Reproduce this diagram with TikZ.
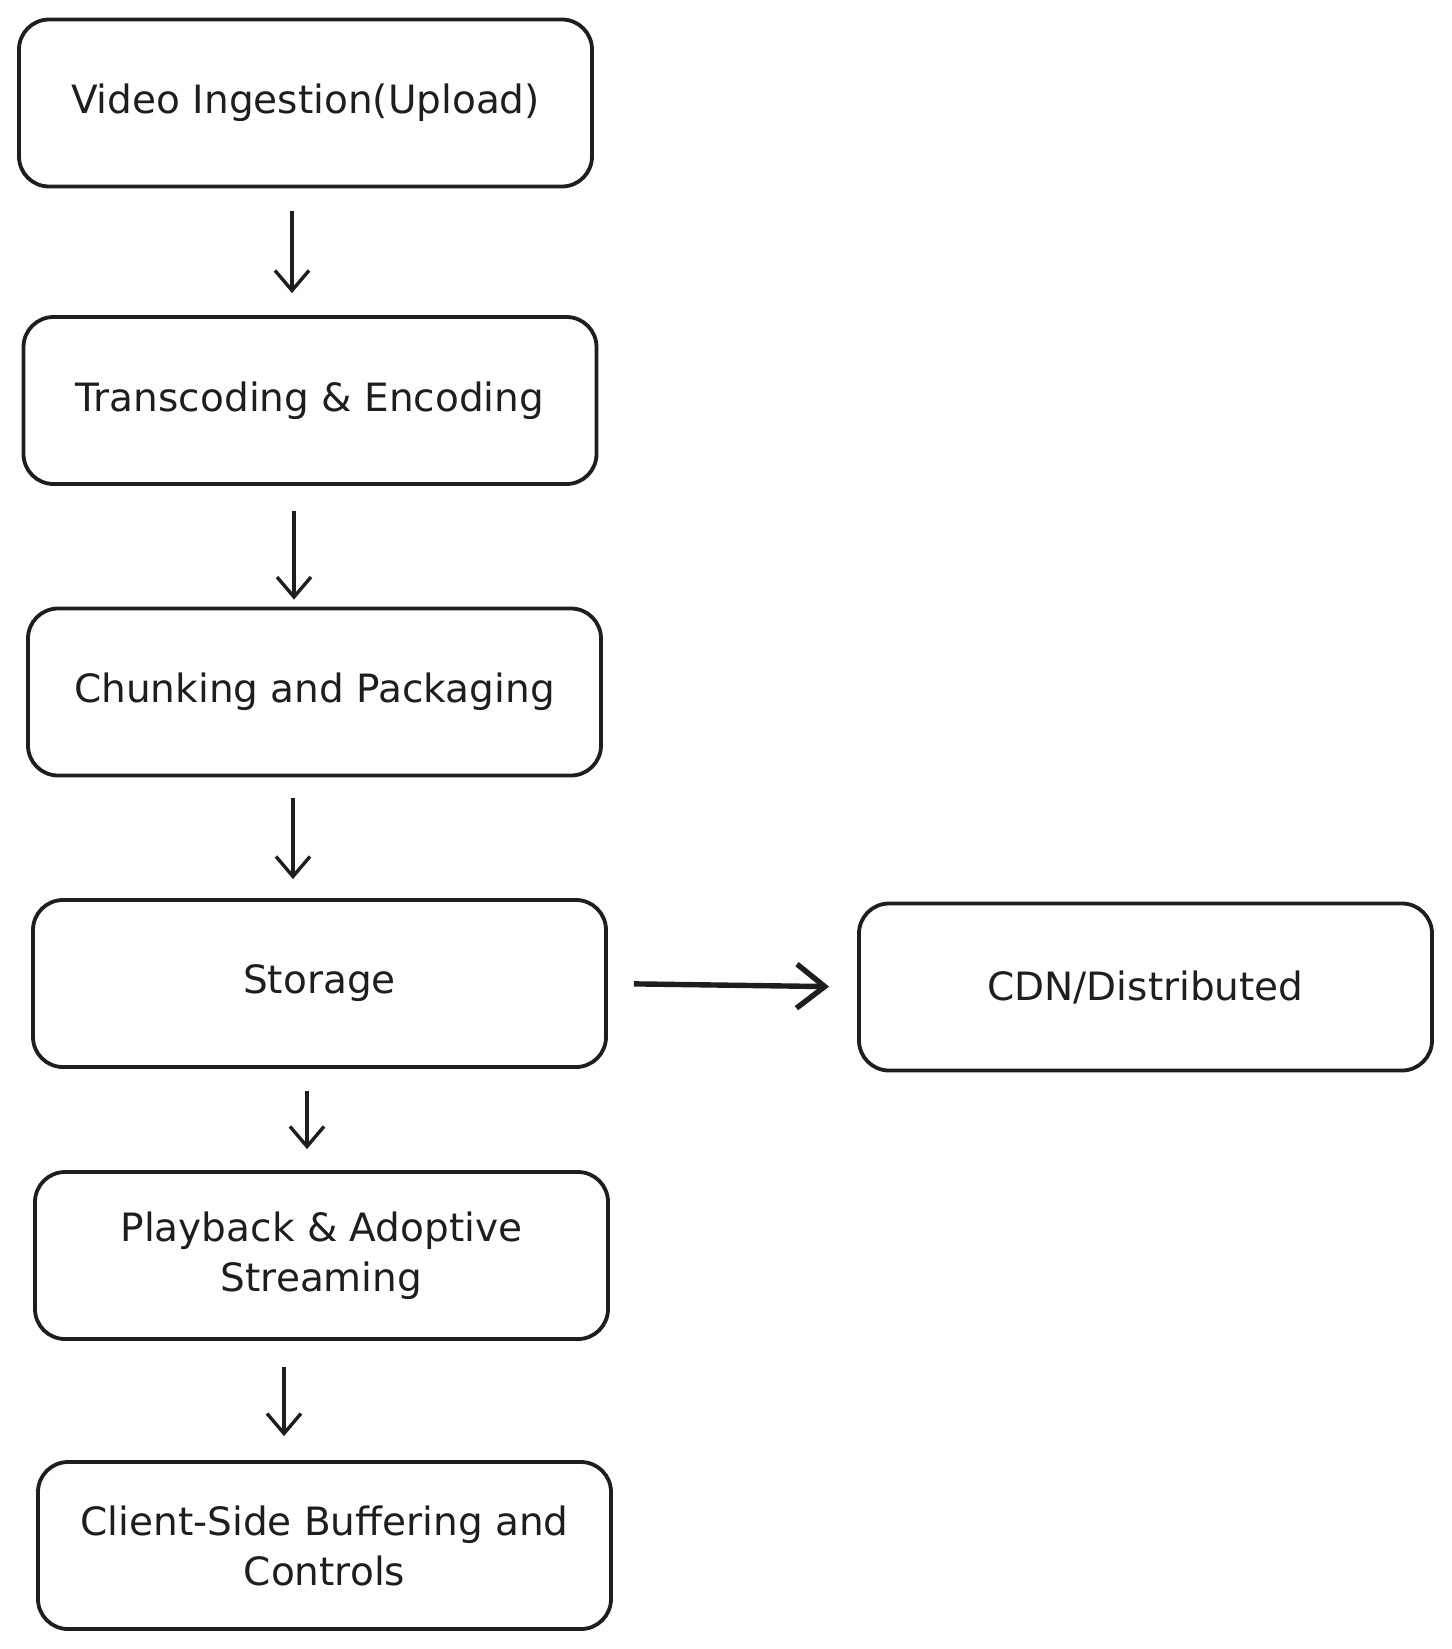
\documentclass[tikz,border=0pt]{standalone}
\usepackage{fontspec}
\setmainfont{DejaVu Sans}
\usepackage{tikz}
\usetikzlibrary{shapes.geometric, arrows}
\usetikzlibrary{arrows.meta}
\definecolor{ink}{HTML}{1E1E1E}
\tikzstyle{stagebox} = [draw=ink, line width=1.9pt, rounded corners=15pt, minimum width=286.5pt, minimum height=83.5pt, align=center, text=ink, font=\fontsize{19.5}{25}\selectfont]
\tikzstyle{arrow} = [draw=ink, line width=1.7pt, -{Straight Barb[length=10pt,width=17pt]}]
\tikzstyle{bigarrow} = [draw=ink, line width=2.7pt, -{Straight Barb[length=14pt,width=22pt]}]

\begin{document}
\begin{tikzpicture}[x=0.5pt,y=-0.5pt]
\useasboundingbox (0,0) rectangle (1451,1649);

\node[stagebox] (ingest) at (305.5,103) {Video Ingestion(Upload)};
\node[stagebox] (transcode) at (310,400.5) {Transcoding \& Encoding};
\node[stagebox] (chunk) at (314.5,692) {Chunking and Packaging};
\node[stagebox] (storage) at (319.5,983.5) {Storage};
\node[stagebox] (cdn) at (1145.5,987) {CDN/Distributed};
\node[stagebox] (playback) at (321.5,1255.5) {Playback \& Adoptive\\Streaming};
\node[stagebox] (client) at (324.5,1545.5) {Client-Side Buffering and\\Controls};

\draw[arrow, shorten <=11.5pt, shorten >=11pt] ([xshift=-6.75pt]ingest.south) -- ([xshift=-6.75pt]ingest.south |- transcode.north);
\draw[arrow, shorten <=12.5pt, shorten >=3.5pt] ([xshift=-8pt]transcode.south) -- ([xshift=-8pt]transcode.south |- chunk.north);
\draw[arrow, shorten <=10.5pt, shorten >=9.5pt] ([xshift=-10.75pt]chunk.south) -- ([xshift=-10.75pt]chunk.south |- storage.north);
\draw[arrow, shorten <=11pt, shorten >=10.5pt] ([xshift=-6.25pt]storage.south) -- ([xshift=-6.25pt]storage.south |- playback.north);
\draw[arrow, shorten <=13pt, shorten >=12pt] ([xshift=-18.75pt]playback.south) -- ([xshift=-18.75pt]playback.south |- client.north);

\draw[bigarrow, shorten <=13pt, shorten >=14pt] (storage.east) -- (cdn.west);
\end{tikzpicture}
\end{document}
